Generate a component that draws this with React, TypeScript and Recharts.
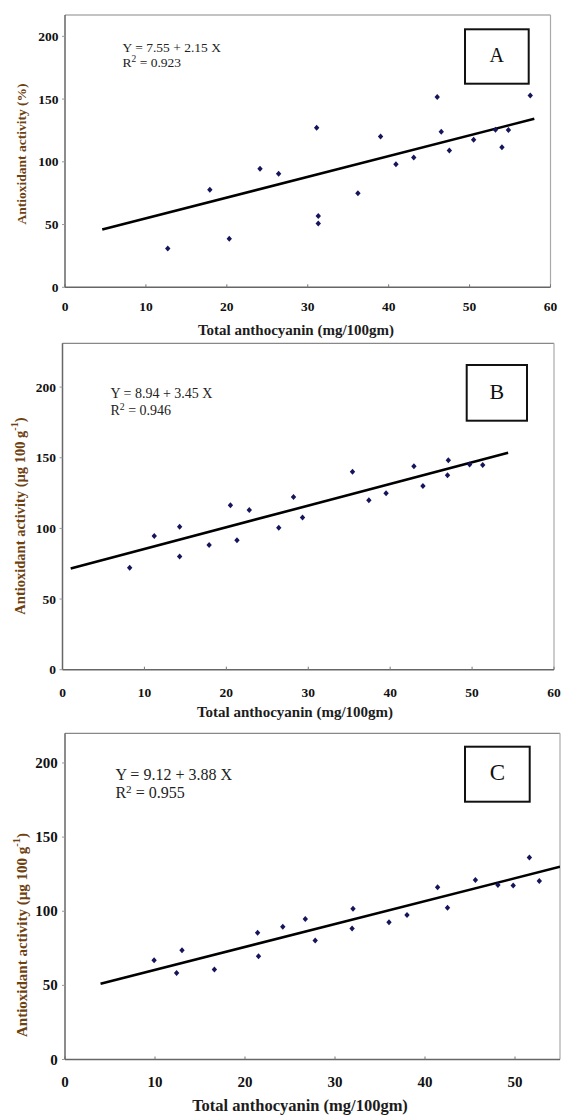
import React from 'react';
import { ScatterChart, Scatter, XAxis, YAxis, ReferenceLine, Label } from 'recharts';

const FONT = '"Liberation Serif", "Times New Roman", serif';

// ---------- data ----------
const yTicks = [0, 50, 100, 150, 200];
const xTicksAB = [0, 10, 20, 30, 40, 50, 60];
const xTicksC = [0, 10, 20, 30, 40, 50];

const pointsA = [
  { x: 12.7, y: 30.9 }, { x: 17.9, y: 77.7 }, { x: 20.3, y: 38.6 }, { x: 24.1, y: 94.4 },
  { x: 26.4, y: 90.4 }, { x: 31.1, y: 127.1 }, { x: 31.3, y: 56.9 }, { x: 31.3, y: 50.8 },
  { x: 36.2, y: 75.0 }, { x: 39.0, y: 120.2 }, { x: 40.9, y: 98.1 }, { x: 43.1, y: 103.5 },
  { x: 46.0, y: 151.6 }, { x: 46.5, y: 123.9 }, { x: 47.5, y: 109.0 }, { x: 50.5, y: 117.6 },
  { x: 53.2, y: 125.5 }, { x: 54.0, y: 111.7 }, { x: 54.8, y: 125.3 }, { x: 57.5, y: 152.9 },
];
const fitA = [{ x: 4.6, y: 46.0 }, { x: 58.0, y: 134.3 }];

const pointsB = [
  { x: 8.2, y: 72.2 }, { x: 11.2, y: 94.6 }, { x: 14.3, y: 101.2 }, { x: 14.3, y: 80.2 },
  { x: 17.9, y: 88.2 }, { x: 20.5, y: 116.3 }, { x: 21.3, y: 91.7 }, { x: 22.8, y: 113.0 },
  { x: 26.4, y: 100.5 }, { x: 28.2, y: 122.2 }, { x: 29.3, y: 107.8 }, { x: 35.4, y: 140.1 },
  { x: 37.4, y: 120.0 }, { x: 39.5, y: 124.8 }, { x: 42.9, y: 143.9 }, { x: 44.0, y: 130.0 },
  { x: 47.1, y: 148.3 }, { x: 47.0, y: 137.7 }, { x: 49.7, y: 145.3 }, { x: 51.3, y: 144.8 },
];
const fitB = [{ x: 1.0, y: 71.7 }, { x: 54.4, y: 153.5 }];

const pointsC = [
  { x: 9.9, y: 67.0 }, { x: 12.4, y: 58.3 }, { x: 13.0, y: 73.6 }, { x: 16.6, y: 60.7 },
  { x: 21.4, y: 85.5 }, { x: 21.5, y: 69.7 }, { x: 24.2, y: 89.5 }, { x: 26.7, y: 94.7 },
  { x: 27.8, y: 80.3 }, { x: 31.9, y: 88.4 }, { x: 32.0, y: 101.7 }, { x: 36.0, y: 92.5 },
  { x: 38.0, y: 97.4 }, { x: 41.4, y: 116.1 }, { x: 42.5, y: 102.4 }, { x: 45.6, y: 121.0 },
  { x: 48.1, y: 117.7 }, { x: 49.8, y: 117.4 }, { x: 51.6, y: 136.3 }, { x: 52.7, y: 120.4 },
];
const fitC = [{ x: 3.95, y: 51.1 }, { x: 55.0, y: 130.0 }];

const xTitle = 'Total anthocyanin (mg/100gm)';
const yTitleA = 'Antioxidant activity (%)';
const yTitleBC = 'Antioxidant activity (µg 100 g';
const eqA = ['Y = 7.55 + 2.15 X', '0.923'];
const eqB = ['Y = 8.94 + 3.45 X', '0.946'];
const eqC = ['Y = 9.12 + 3.88 X', '0.955'];

// ---------- drawing ----------
const Diamond = (props: any) => {
  const { cx, cy } = props;
  if (cx == null || cy == null) return <g />;
  return (
    <path
      d={`M${cx},${cy - 3}L${cx + 2.7},${cy}L${cx},${cy + 3}L${cx - 2.7},${cy}Z`}
      fill="#15155c"
    />
  );
};

const NoShape = () => <g />;

const makeXTick = (fs: number) => (props: any) => (
  <text
    x={props.x}
    y={props.y}
    dy={fs * 0.71}
    textAnchor="middle"
    fontFamily={FONT}
    fontWeight="bold"
    fontSize={fs}
    fill="#111"
  >
    {props.payload.value}
  </text>
);

const makeYTick = (fs: number) => (props: any) => (
  <text
    x={props.x}
    y={props.y}
    dy={fs * 0.34}
    textAnchor="end"
    fontFamily={FONT}
    fontWeight="bold"
    fontSize={fs}
    fill="#111"
  >
    {props.payload.value}
  </text>
);

type PanelProps = {
  top: number;
  height: number;
  marginTop: number;
  marginRight: number;
  yAxisWidth: number;
  xAxisHeight: number;
  xDomain: [number, number];
  yDomain: [number, number];
  xTicks: number[];
  points: { x: number; y: number }[];
  fit: { x: number; y: number }[];
  tickFont: number;
  xTickMargin: number;
  yTickMargin: number;
  yTitle: string;
  ySup: boolean;
  yTitlePos: [number, number];
  yTitleFont: number;
  xTitlePos: [number, number];
  xTitleFont: number;
  eq: string[];
  eqX: number;
  eqBase: [number, number];
  eqFont: number;
  letter: string;
  box: [number, number, number, number];
  letterBase: number;
  letterFont: number;
};

const Panel = (p: PanelProps) => {
  const yTx = p.yTitlePos[0];
  const yTy = p.yTitlePos[1] - p.top;
  return (
    <div style={{ position: 'absolute', left: 0, top: p.top, width: 562, height: p.height }}>
      <ScatterChart
        width={562}
        height={p.height}
        margin={{ top: p.marginTop, right: p.marginRight, bottom: 0, left: 0 }}
      >
        <XAxis
          type="number"
          dataKey="x"
          domain={p.xDomain}
          ticks={p.xTicks}
          allowDataOverflow
          height={p.xAxisHeight}
          axisLine={{ stroke: '#666', strokeWidth: 1.5 }}
          tickLine={{ stroke: '#777' }}
          tickSize={-3}
          tickMargin={p.xTickMargin}
          tick={makeXTick(p.tickFont)}
        >
          <Label
            content={() => (
              <text
                x={p.xTitlePos[0]}
                y={p.xTitlePos[1] - p.top}
                textAnchor="middle"
                dominantBaseline="central"
                style={{ fontFamily: FONT, fontWeight: 700, fontSize: p.xTitleFont, fill: '#1c1c1c' }}
              >
                {xTitle}
              </text>
            )}
          />
        </XAxis>
        <YAxis
          type="number"
          dataKey="y"
          domain={p.yDomain}
          ticks={yTicks}
          allowDataOverflow
          width={p.yAxisWidth}
          axisLine={{ stroke: '#666', strokeWidth: 1.5 }}
          tickLine={{ stroke: '#999' }}
          tickSize={3}
          tickMargin={p.yTickMargin}
          tick={makeYTick(p.tickFont)}
        >
          <Label
            content={() => (
              <text
                x={yTx}
                y={yTy}
                transform={`rotate(-90 ${yTx} ${yTy})`}
                textAnchor="middle"
                dominantBaseline="central"
                style={{ fontFamily: FONT, fontWeight: 700, fontSize: p.yTitleFont, fill: '#6e4210' }}
              >
                {p.yTitle}
                {p.ySup ? (
                  <>
                    <tspan dy={-6} fontSize={p.yTitleFont * 0.7}>-1</tspan>
                    <tspan dy={6}>)</tspan>
                  </>
                ) : null}
              </text>
            )}
          />
        </YAxis>
        <ReferenceLine y={p.yDomain[1]} stroke="#888" strokeWidth={1.2} ifOverflow="visible" />
        <ReferenceLine x={p.xDomain[1]} stroke="#aaa" strokeWidth={1.2} ifOverflow="visible" />
        <Scatter
          data={p.fit}
          line={{ stroke: '#000', strokeWidth: 2.6 }}
          lineType="joint"
          shape={NoShape}
          isAnimationActive={false}
        />
        <Scatter data={p.points} shape={Diamond} isAnimationActive={false} />
      </ScatterChart>
      <svg
        width={562}
        height={p.height}
        style={{ position: 'absolute', left: 0, top: 0, pointerEvents: 'none' }}
      >
        <text
          x={p.eqX}
          y={p.eqBase[0] - p.top}
          style={{ fontFamily: FONT, fontSize: p.eqFont, fill: '#222' }}
        >
          {p.eq[0]}
        </text>
        <text
          x={p.eqX}
          y={p.eqBase[1] - p.top}
          style={{ fontFamily: FONT, fontSize: p.eqFont, fill: '#222' }}
        >
          R<tspan dy={-5} fontSize={p.eqFont * 0.7}>2</tspan>
          <tspan dy={5}>{' = ' + p.eq[1]}</tspan>
        </text>
        <rect
          x={p.box[0]}
          y={p.box[1] - p.top}
          width={p.box[2] - p.box[0]}
          height={p.box[3] - p.box[1]}
          fill="#fff"
          stroke="#111"
          strokeWidth={2}
        />
        <text
          x={(p.box[0] + p.box[2]) / 2}
          y={p.letterBase - p.top}
          textAnchor="middle"
          style={{ fontFamily: FONT, fontSize: p.letterFont, fill: '#111' }}
        >
          {p.letter}
        </text>
      </svg>
    </div>
  );
};

export default function App() {
  return (
    <div style={{ position: 'absolute', left: 0, top: 0, width: 562, height: 1115, background: '#fff' }}>
      <Panel
        top={0}
        height={345}
        marginTop={15}
        marginRight={11.5}
        yAxisWidth={65}
        xAxisHeight={57.7}
        xDomain={[0, 60]}
        yDomain={[0, 217]}
        xTicks={xTicksAB}
        points={pointsA}
        fit={fitA}
        tickFont={13.5}
        xTickMargin={17.5}
        yTickMargin={3.5}
        yTitle={yTitleA}
        ySup={false}
        yTitlePos={[21, 154]}
        yTitleFont={13.5}
        xTitlePos={[296, 330]}
        xTitleFont={15}
        eq={eqA}
        eqX={122.6}
        eqBase={[52.3, 67.3]}
        eqFont={13.5}
        letter="A"
        box={[465, 29.3, 528.7, 83.7]}
        letterBase={62.3}
        letterFont={20}
      />
      <Panel
        top={340}
        height={385}
        marginTop={3.3}
        marginRight={8}
        yAxisWidth={62.5}
        xAxisHeight={55.3}
        xDomain={[0, 60]}
        yDomain={[0, 231]}
        xTicks={xTicksAB}
        points={pointsB}
        fit={fitB}
        tickFont={13.5}
        xTickMargin={20.3}
        yTickMargin={3.5}
        yTitle={yTitleBC}
        ySup={true}
        yTitlePos={[20, 516]}
        yTitleFont={14.5}
        xTitlePos={[295, 711.7]}
        xTitleFont={15}
        eq={eqB}
        eqX={110.4}
        eqBase={[397.7, 415]}
        eqFont={14}
        letter="B"
        box={[466.7, 365, 527, 420.7]}
        letterBase={399}
        letterFont={22}
      />
      <Panel
        top={728}
        height={387}
        marginTop={5.3}
        marginRight={2}
        yAxisWidth={65}
        xAxisHeight={55.5}
        xDomain={[0, 55]}
        yDomain={[0, 220]}
        xTicks={xTicksC}
        points={pointsC}
        fit={fitC}
        tickFont={15}
        xTickMargin={19.8}
        yTickMargin={4.3}
        yTitle={yTitleBC}
        ySup={true}
        yTitlePos={[21.5, 935]}
        yTitleFont={15}
        xTitlePos={[300, 1105]}
        xTitleFont={16.5}
        eq={eqC}
        eqX={115.4}
        eqBase={[780, 797.7]}
        eqFont={16}
        letter="C"
        box={[465, 746.7, 529.7, 801.7]}
        letterBase={780}
        letterFont={23}
      />
    </div>
  );
}
